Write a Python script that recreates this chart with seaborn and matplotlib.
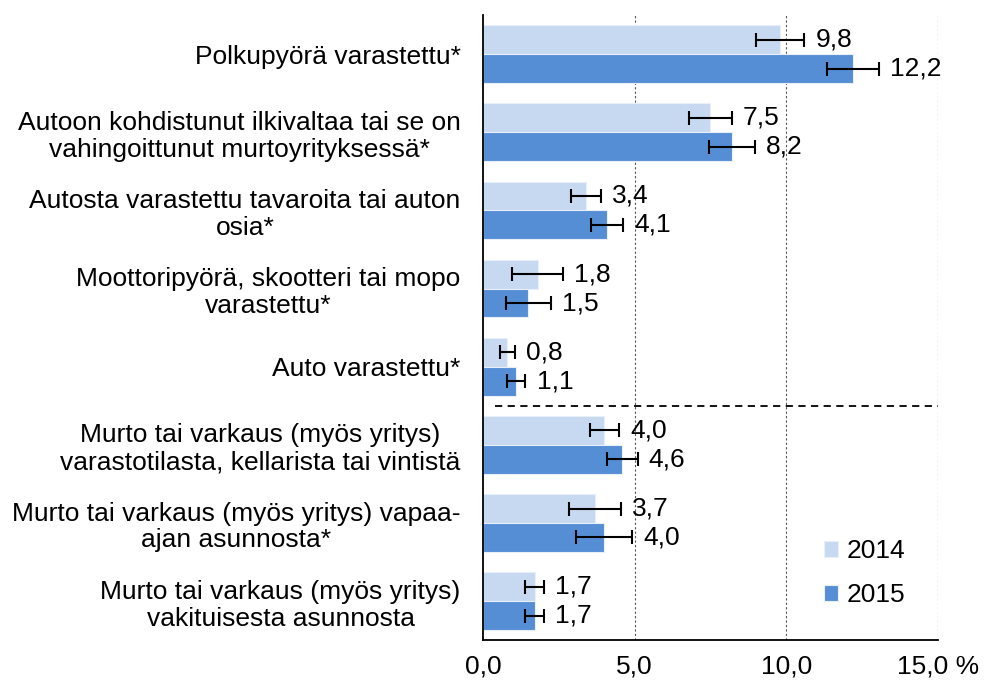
import pandas as pd
import matplotlib.pyplot as plt
import seaborn as sns

sns.set_theme(style="white")
plt.rcParams['font.family'] = ['Liberation Sans', 'DejaVu Sans']
plt.rcParams['text.color'] = 'black'

categories = [
    "Polkupyörä varastettu*",
    "Autoon kohdistunut ilkivaltaa tai se on\nvahingoittunut murtoyrityksessä*",
    "Autosta varastettu tavaroita tai auton\nosia*",
    "Moottoripyörä, skootteri tai mopo\nvarastettu*",
    "Auto varastettu*",
    "Murto tai varkaus (myös yritys)\nvarastotilasta, kellarista tai vintistä",
    "Murto tai varkaus (myös yritys) vapaa-\najan asunnosta*",
    "Murto tai varkaus (myös yritys)\nvakituisesta asunnosta",
]
years = ["2014", "2015"]
values_2014 = [9.8, 7.5, 3.4, 1.8, 0.8, 4.0, 3.7, 1.7]
values_2015 = [12.2, 8.2, 4.1, 1.5, 1.1, 4.6, 4.0, 1.7]
err_2014 = [0.8, 0.7, 0.5, 0.84, 0.25, 0.48, 0.86, 0.3]
err_2015 = [0.87, 0.76, 0.53, 0.74, 0.3, 0.5, 0.92, 0.3]
xticks = [0, 5, 10, 15]
xticklabels = ["0,0", "5,0", "10,0", "15,0 %"]

colors = {"2014": "#C6D9F1", "2015": "#558ED5"}
fs = 19

df = pd.DataFrame({
    "kategoria": categories * 2,
    "arvo": values_2014 + values_2015,
    "virhe": err_2014 + err_2015,
    "vuosi": ["2014"] * len(categories) + ["2015"] * len(categories),
})

fig = plt.figure(figsize=(10.02, 6.84), dpi=100)
ax = fig.add_axes([0.482, 0.064, 0.454, 0.914])

sns.barplot(data=df, y="kategoria", x="arvo", hue="vuosi", hue_order=years,
            palette=colors, saturation=1, orient="h", width=0.74, errorbar=None,
            edgecolor="#E8EFF9", linewidth=0.8, ax=ax)

# virhepalkit ja arvot palkkien paikoista
for cont, year in zip(ax.containers, years):
    errs = df[df["vuosi"] == year]["virhe"].tolist()
    for bar, e in zip(cont, errs):
        w = bar.get_width()
        yc = bar.get_y() + bar.get_height() / 2
        ax.errorbar(w, yc, xerr=e, fmt="none", ecolor="black",
                    elinewidth=1.5, capsize=5, capthick=1.5, zorder=4)
        ax.annotate(f"{w:.1f}".replace(".", ","), (w + e, yc),
                    xytext=(8, 0), textcoords="offset points",
                    va="center", ha="left", fontsize=fs, color="black")

ax.set_xlim(0, 15)
ax.set_ylim(7.5, -0.5)
ax.set_xticks(xticks)
ax.set_xticklabels(xticklabels, fontsize=fs, color="black")
ax.tick_params(axis="x", length=0, pad=10)
ax.tick_params(axis="y", length=0, pad=16)
for lab in ax.get_yticklabels():
    lab.set_fontsize(fs)
    lab.set_multialignment("center")
    lab.set_linespacing(1.15)
    lab.set_color("black")
ax.set_xlabel("")
ax.set_ylabel("")

for x in xticks[1:]:
    ax.axvline(x, color="#555555", linestyle=(0, (2, 2)), linewidth=0.8, zorder=0)
ax.axhline(4.5, xmin=0.027, xmax=1, color="black", linestyle=(0, (4, 3)), linewidth=1.3)

sns.despine(ax=ax, top=True, right=True)
for s in ["left", "bottom"]:
    ax.spines[s].set_color("black")
    ax.spines[s].set_linewidth(1.3)

handles, labels = ax.get_legend_handles_labels()
leg = ax.legend(handles, labels, loc="lower right", bbox_to_anchor=(0.98, 0.015),
                frameon=False, fontsize=fs, handlelength=0.55, handleheight=0.55,
                handletextpad=0.3, labelspacing=0.75)
for t in leg.get_texts():
    t.set_color("black")

plt.savefig("out.png", dpi=100)
plt.close()
